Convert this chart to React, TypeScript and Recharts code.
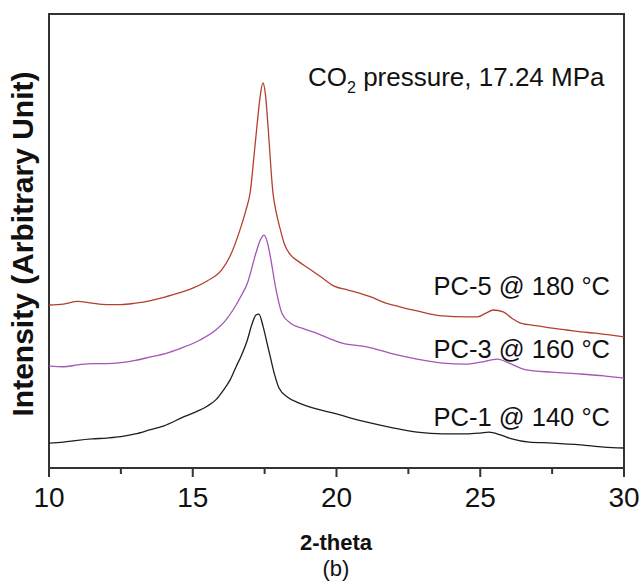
import React from "react";
import {
  LineChart,
  Line,
  XAxis,
  YAxis,
  ReferenceArea,
} from "recharts";

// 2-theta positions and intensities (arbitrary units, 0-100 scale)
const pc5X = [
  10, 10.5, 11, 11.5, 12, 12.5, 13, 13.5, 14, 14.5, 15, 15.5, 16, 16.3, 16.64,
  16.85, 17.0, 17.15, 17.23, 17.33, 17.44, 17.53, 17.62, 17.79, 17.9, 18.03,
  18.2, 18.38, 18.7, 19.0, 19.5, 19.9, 20.4, 20.8, 21.2, 21.6, 22.2, 22.8,
  23.7, 24.5, 24.9, 25.2, 25.45, 25.8, 26.1, 26.4, 27, 27.5, 28, 28.5, 29,
  29.5, 30,
];
const pc5Y = [
  35.9, 36.1, 36.7, 36.3, 36.0, 36.0, 36.3, 36.8, 37.6, 38.5, 39.6, 41.2, 43.6,
  46.7, 52.4, 56.8, 60.8, 70.0, 75.1, 81.1, 84.8, 82.2, 75.1, 60.6, 56.4, 52.9,
  49.1, 47.1, 45.4, 44.1, 41.9, 40.1, 39.2, 38.5, 37.7, 36.6, 35.5, 34.6, 33.5,
  33.3, 33.3, 34.1, 34.8, 34.4, 33.0, 31.9, 31.3, 30.8, 30.4, 30.0, 29.7,
  29.3, 28.9,
];

const pc3X = [
  10, 10.5, 11, 11.5, 12, 12.5, 13, 13.5, 14.1, 14.6, 15.25, 15.8, 16.1, 16.4,
  16.7, 16.9, 17.2, 17.35, 17.48, 17.6, 17.7, 17.9, 18.1, 18.4, 18.8, 19.3,
  19.8, 20.2, 21.06, 22, 22.8, 23.7, 24.5, 25.0, 25.6, 26.0, 26.6, 27.5, 28.5,
  29.3, 30,
];
const pc3Y = [
  22.5, 22.3, 22.7, 23.0, 23.0, 23.2, 23.7, 24.4, 25.3, 26.4, 28.2, 30.4, 32.2,
  34.8, 38.1, 40.7, 47.4, 50.2, 51.3, 49.6, 46.5, 39.2, 34.1, 31.9, 30.8, 29.7,
  28.4, 27.5, 26.7, 25.1, 24.0, 23.1, 22.9, 23.3, 24.0, 23.1, 21.6, 21.1, 20.7,
  20.3, 19.8,
];

const pc1X = [
  10, 10.5, 11, 11.5, 12, 12.5, 13, 13.5, 14, 14.66, 15.0, 15.5, 15.8, 16.05,
  16.3, 16.5, 16.7, 16.9, 17.05, 17.2, 17.3, 17.45, 17.6, 17.7, 17.85, 18.0,
  18.3, 18.7, 19.3, 19.9, 20.5, 21.06, 22, 22.8, 23.7, 24.5, 25.0, 25.3, 25.7,
  26.1, 26.7, 27.5, 28.5, 29.3, 30,
];
const pc1Y = [
  5.5, 5.7, 6.1, 6.4, 6.6, 6.9, 7.5, 8.4, 9.3, 11.2, 12.1, 13.6, 15.0, 17.0,
  19.4, 22.2, 24.9, 28.2, 31.5, 33.7, 33.9, 31.1, 27.1, 24.4, 20.5, 17.6, 15.6,
  14.3, 13.0, 12.1, 11.0, 10.1, 8.8, 7.9, 7.5, 7.5, 7.7, 7.9, 7.3, 6.4, 5.7,
  5.5, 5.1, 4.6, 4.4,
];

const xTicks = [10, 12.5, 15, 17.5, 20, 22.5, 25, 27.5, 30];

const toRows = (xs: number[], ys: number[]) =>
  xs.map((x, i) => ({ x, y: ys[i] }));

const FONT = "'Liberation Sans', Arial, sans-serif";
const AXIS = "#333";

const XTick = (props: any) => {
  const { x, y, payload } = props;
  const major = payload.value % 5 === 0;
  return (
    <g>
      <line
        x1={x}
        x2={x}
        y1={y}
        y2={y + (major ? 9 : 6)}
        stroke={AXIS}
        strokeWidth={2}
      />
      {major && (
        <text
          x={x}
          y={y + 39}
          textAnchor="middle"
          fontSize={28}
          fontFamily={FONT}
          fill="#111"
        >
          {payload.value}
        </text>
      )}
    </g>
  );
};

export default function App() {
  return (
    <div style={{ position: "absolute", left: 0, top: 0, width: 642, height: 582 }}>
      <LineChart
        width={642}
        height={582}
        margin={{ top: 14, right: 18, left: 49, bottom: 0 }}
      >
        <XAxis
          type="number"
          dataKey="x"
          domain={[10, 30]}
          ticks={xTicks}
          allowDataOverflow
          height={114}
          tickSize={0}
          tickMargin={0}
          tickLine={false}
          axisLine={{ stroke: AXIS, strokeWidth: 2 }}
          tick={<XTick />}
        />
        <YAxis type="number" domain={[0, 100]} hide />
        <ReferenceArea
          x1={10}
          x2={30}
          y1={0}
          y2={100}
          fill="none"
          stroke={AXIS}
          strokeWidth={2}
          ifOverflow="visible"
        />
        <Line
          data={toRows(pc5X, pc5Y)}
          dataKey="y"
          type="monotone"
          stroke="#b3402f"
          strokeWidth={1.3}
          dot={false}
          isAnimationActive={false}
        />
        <Line
          data={toRows(pc3X, pc3Y)}
          dataKey="y"
          type="monotone"
          stroke="#a455b6"
          strokeWidth={1.3}
          dot={false}
          isAnimationActive={false}
        />
        <Line
          data={toRows(pc1X, pc1Y)}
          dataKey="y"
          type="monotone"
          stroke="#1e1e1e"
          strokeWidth={1.3}
          dot={false}
          isAnimationActive={false}
        />
      </LineChart>
      <svg
        width={642}
        height={582}
        style={{ position: "absolute", left: 0, top: 0, pointerEvents: "none" }}
        fontFamily={FONT}
      >
        <text
          transform="translate(33,244) rotate(-90)"
          textAnchor="middle"
          fontSize={30}
          fontWeight="bold"
          fill="#111"
        >
          Intensity  (Arbitrary Unit)
        </text>
        <text x={308} y={86} fontSize={26} fill="#111">
          CO<tspan fontSize={16} dy={7}>2</tspan>
          <tspan dy={-7}> pressure, 17.24 MPa</tspan>
        </text>
        <text x={610} y={295} textAnchor="end" fontSize={25.5} fill="#111">
          PC-5 @ 180 °C
        </text>
        <text x={610} y={358} textAnchor="end" fontSize={25.5} fill="#111">
          PC-3 @ 160 °C
        </text>
        <text x={610} y={426} textAnchor="end" fontSize={25.5} fill="#111">
          PC-1 @ 140 °C
        </text>
        <text
          x={336}
          y={550}
          textAnchor="middle"
          fontSize={22}
          fontWeight="bold"
          fill="#111"
        >
          2-theta
        </text>
        <text x={336} y={576} textAnchor="middle" fontSize={22} fill="#111">
          (b)
        </text>
      </svg>
    </div>
  );
}
